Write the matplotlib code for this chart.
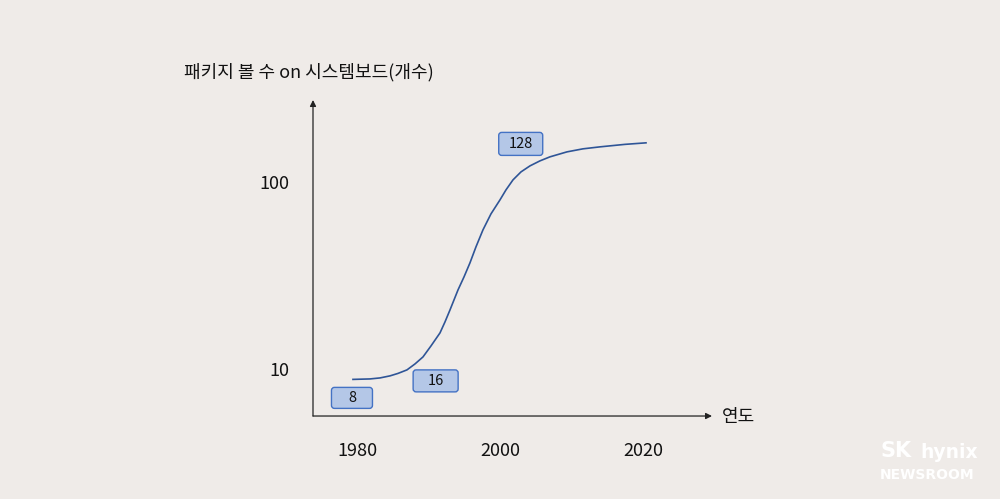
import numpy as np
import matplotlib
matplotlib.use("Agg")
import matplotlib.pyplot as plt
from matplotlib.patches import FancyBboxPatch

plt.rcParams['font.family'] = ['Noto Sans CJK KR', 'DejaVu Sans']

years = [1979.44, 1981.82, 1983.22, 1984.62, 1985.73, 1986.99, 1988.11, 1989.23,
         1990.35, 1991.61, 1992.31, 1993.01, 1994.13, 1994.97, 1995.80, 1996.64,
         1997.62, 1998.74, 2000.00, 2000.84, 2001.82, 2002.94, 2004.20, 2005.59,
         2006.99, 2009.37, 2011.61, 2013.99, 2017.48, 2020.42]
packages = [8.79, 8.84, 8.95, 9.18, 9.46, 9.88, 10.63, 11.59,
            13.27, 15.58, 17.84, 20.68, 26.45, 31.05, 36.88, 44.92,
            55.39, 67.44, 80.12, 90.62, 102.5, 113.1, 121.8, 129.5,
            136.1, 144.7, 150.2, 153.9, 158.7, 161.7]

box_labels = ["8", "16", "128"]
box_years = [1979.3, 1991.0, 2002.9]
box_values = [7.0, 8.63, 159.6]
box_sizes = [(41, 21), (45, 22), (44, 23)]

x_ticks = [1980, 2000, 2020]
y_ticks = [10, 100]
y_title = "패키지 볼 수 on 시스템보드(개수)"
x_title = "연도"

bg = "#efebe8"
fig = plt.figure(figsize=(10, 4.99), dpi=100, facecolor=bg)
ax = fig.add_axes([0.313, 0.1663, 0.399, 0.6333])
ax.set_facecolor(bg)
ax.set_yscale("log")
ax.set_xlim(1973.85, 2029.65)
ax.set_ylim(5.6, 274)

ax.plot(years, packages, color="#2f5597", lw=1.2, solid_joinstyle="round")

for s in ax.spines.values():
    s.set_visible(False)
ax.annotate("", xy=(0, 1), xytext=(0, 0), xycoords="axes fraction",
            arrowprops=dict(arrowstyle="-|>", color="#222222", lw=0.9,
                            mutation_scale=9, shrinkA=0, shrinkB=0))
ax.annotate("", xy=(1, 0), xytext=(0, 0), xycoords="axes fraction",
            arrowprops=dict(arrowstyle="-|>", color="#222222", lw=0.9,
                            mutation_scale=9, shrinkA=0, shrinkB=0))

ax.set_xticks(x_ticks)
ax.set_xticklabels([str(t) for t in x_ticks])
ax.set_yticks(y_ticks)
ax.set_yticklabels([str(t) for t in y_ticks])
ax.minorticks_off()
ax.tick_params(axis="x", length=0, pad=19, labelsize=13, colors="#111111")
ax.tick_params(axis="y", length=0, pad=17, labelsize=13, colors="#111111")

# boxes in pixel units around data points
for lab, bx, by, (w, h) in zip(box_labels, box_years, box_values, box_sizes):
    cx, cy = ax.transData.transform((bx, by))
    patch = FancyBboxPatch((cx - w / 2 + 3, cy - h / 2 + 3), w - 6, h - 6,
                           boxstyle="round,pad=3", fc="#b4c7e7", ec="#4472c4",
                           lw=1.0, transform=None, zorder=3)
    fig.patches.append(patch)
    fig.text(cx / fig.bbox.width, cy / fig.bbox.height, lab, ha="center",
             va="center", fontsize=10.5, color="#111111", zorder=4)

fig.text(0.184, 1 - 72 / 499, y_title, ha="left", va="center", fontsize=13,
         color="#111111")
fig.text(0.722, 1 - 417 / 499, x_title, ha="left", va="center", fontsize=13,
         color="#111111")

# watermark
fig.text(0.881, 1 - 451 / 499, "SK", ha="left", va="center", fontsize=15,
         fontweight="bold", color="white", family=["DejaVu Sans"])
fig.text(0.920, 1 - 452 / 499, "hynix", ha="left", va="center", fontsize=13.5,
         fontweight="bold", color="white", family=["DejaVu Sans"])
fig.text(0.880, 1 - 475 / 499, "NEWSROOM", ha="left", va="center", fontsize=10,
         fontweight="bold", color="white", family=["DejaVu Sans"])

fig.savefig("out.png", dpi=100, facecolor=bg)
